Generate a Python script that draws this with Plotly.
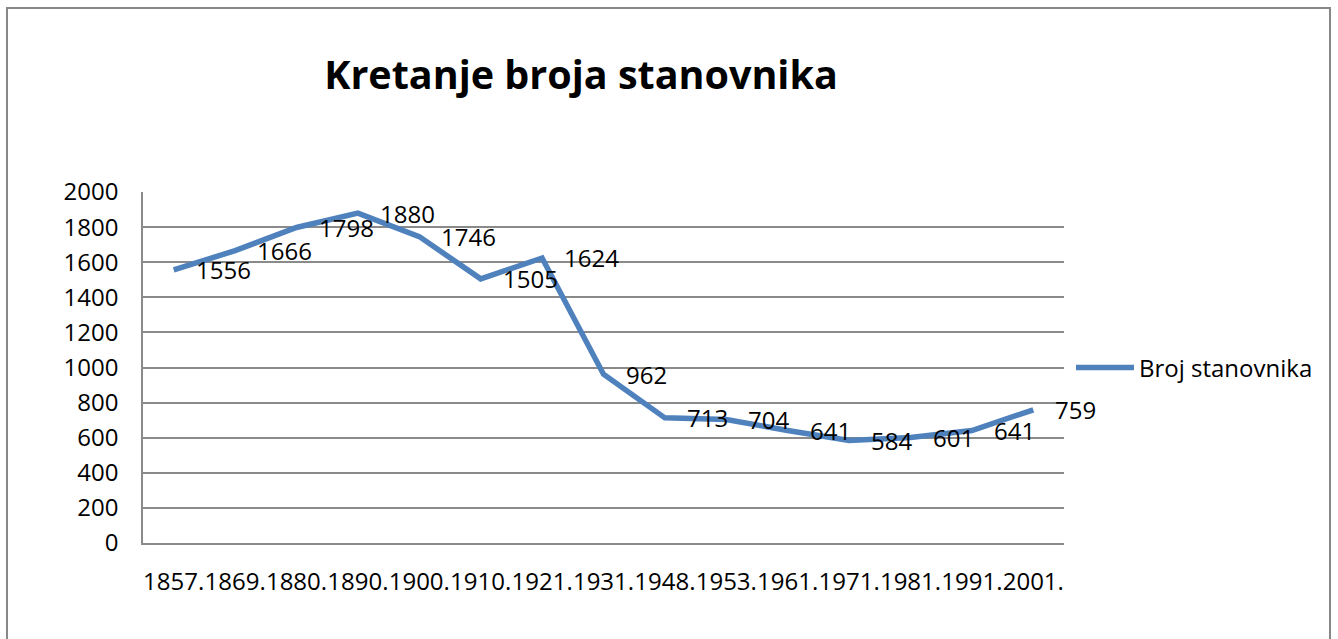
import plotly.graph_objects as go

years = ["1857.", "1869.", "1880.", "1890.", "1900.", "1910.", "1921.", "1931.",
         "1948.", "1953.", "1961.", "1971.", "1981.", "1991.", "2001."]
population = [1556, 1666, 1798, 1880, 1746, 1505, 1624, 962,
              713, 704, 641, 584, 601, 641, 759]
series_name = "Broj stanovnika"
title_text = "Kretanje broja stanovnika"
y_ticks = list(range(0, 2001, 200))

FONT = "Open Sans"
LINE_COLOR = "#4F81BD"
GRID = "#8a8a8a"

fig = go.Figure()
fig.add_trace(go.Scatter(
    x=years, y=population, mode="lines", name=series_name,
    line=dict(color=LINE_COLOR, width=5.5),
))

for i, val in enumerate(population):
    fig.add_annotation(
        x=i, y=val, text=str(val), showarrow=False,
        xanchor="left", yanchor="middle", xshift=20,
        font=dict(family=FONT, size=24, color="#000000"),
    )

fig.update_layout(
    width=1338, height=639,
    margin=dict(l=143, r=274, t=192, b=96),
    paper_bgcolor="white", plot_bgcolor="white",
    title=dict(text=title_text, x=581 / 1338, xref="container", xanchor="center",
               y=1 - 75 / 639, yref="container", yanchor="middle",
               font=dict(family=FONT, size=39.5, color="#000000", weight="bold")),
    showlegend=True,
    legend=dict(x=(1071 - 143) / 921, xanchor="left", xref="paper",
                y=(543 - 368) / 351, yanchor="middle",
                font=dict(family=FONT, size=24, color="#000000"),
                itemwidth=58, bgcolor="rgba(0,0,0,0)"),
    shapes=[dict(type="rect", xref="paper", yref="paper",
                 x0=(7 - 143) / 921, x1=(1330 - 143) / 921,
                 y0=(543 - 650) / 351, y1=(543 - 8) / 351,
                 line=dict(color="#888888", width=2), fillcolor="rgba(0,0,0,0)",
                 layer="below")],
)

fig.update_xaxes(type="category", range=[-0.5, len(years) - 0.5],
                 tickmode="array", tickvals=years, ticktext=years, tickangle=0,
                 showgrid=False, showline=True, linecolor=GRID, linewidth=1.5,
                 ticks="", ticklabelstandoff=16,
                 tickfont=dict(family=FONT, size=24, color="#000000"))
fig.update_yaxes(range=[0, 2000], tickvals=y_ticks,
                 showgrid=True, gridcolor=GRID, gridwidth=1.5,
                 showline=True, linecolor=GRID, linewidth=1.5, zeroline=False,
                 ticks="", ticklabelstandoff=18,
                 tickfont=dict(family=FONT, size=24, color="#000000"))

fig.write_html("out.html", config={"displayModeBar": False},
               post_script="document.body.style.margin='0';")
